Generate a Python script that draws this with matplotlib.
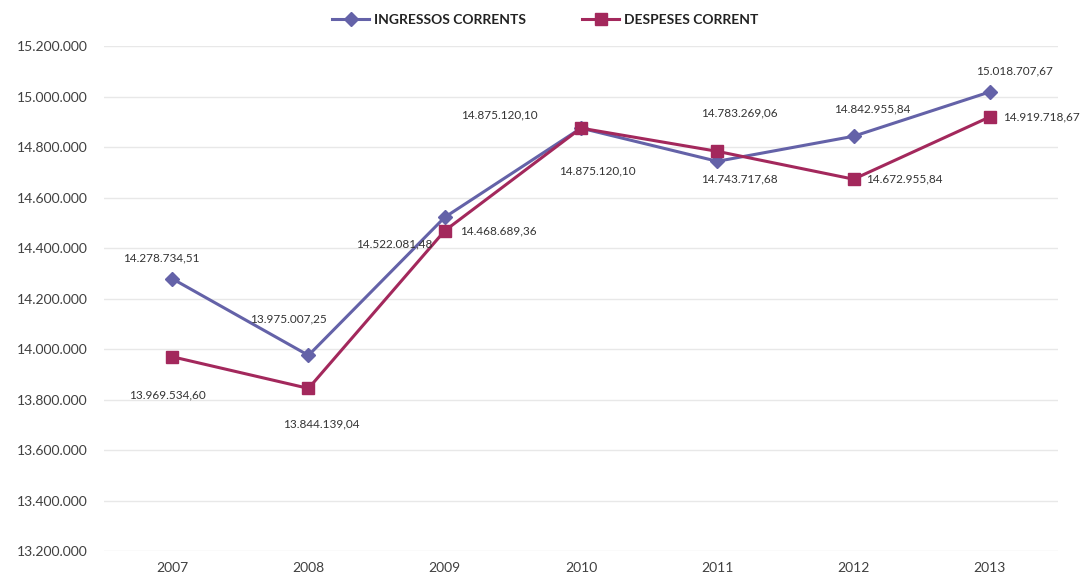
import matplotlib.pyplot as plt
import numpy as np

# dades
anys = ['2007', '2008', '2009', '2010', '2011', '2012', '2013']
ingressos = [14278734.51, 13975007.25, 14522081.48, 14875120.10, 14743717.68, 14842955.84, 15018707.67]
despeses = [13969534.60, 13844139.04, 14468689.36, 14875120.10, 14783269.06, 14672955.84, 14919718.67]

#etiquetes (desplaçament en pixels, alineació)
off_ing = [(-11, 21, 'center'), (-20, 36, 'center'), (-50, -27, 'center'), (-82, 13, 'center'),
           (22, -18, 'center'), (19, 27, 'center'), (25, 21, 'center')]
off_des = [(-5, -38, 'center'), (13, -36, 'center'), (15, 0, 'left'), (16, -43, 'center'),
           (22, 38, 'center'), (12, 0, 'left'), (13, 0, 'left')]

def fmt(v):
    s = '{:,.2f}'.format(v)
    return s.replace(',', 'X').replace('.', ',').replace('X', '.')

plt.rcParams['font.family'] = ['Lato', 'DejaVu Sans']

c_ing = '#6462a8'
c_des = '#a3285c'

fig = plt.figure(figsize=(10.84, 5.84), dpi=100)
ax = fig.add_axes([0.096, 0.0565, 0.88, 0.8645])

x = np.arange(len(anys))
ax.plot(x, ingressos, color=c_ing, lw=2.2, marker='D', ms=7, label='INGRESSOS CORRENTS')
ax.plot(x, despeses, color=c_des, lw=2.2, marker='s', ms=9, label='DESPESES CORRENT')

for i in range(len(anys)):
    dx, dy, ha = off_ing[i]
    ax.annotate(fmt(ingressos[i]), (x[i], ingressos[i]), xytext=(dx, dy), textcoords='offset pixels',
                ha=ha, va='center', fontsize=8.5, color='#333333')
    dx, dy, ha = off_des[i]
    ax.annotate(fmt(despeses[i]), (x[i], despeses[i]), xytext=(dx, dy), textcoords='offset pixels',
                ha=ha, va='center', fontsize=8.5, color='#333333')

ax.set_xlim(-0.5, 6.5)
ax.set_ylim(13200000, 15200000)
ax.set_yticks(np.arange(13200000, 15200001, 200000))
ax.set_yticklabels(['{:,}'.format(int(v)).replace(',', '.') for v in ax.get_yticks()])
ax.set_xticks(x)
ax.set_xticklabels(anys)
ax.tick_params(length=0, labelsize=10, colors='#404040')
ax.tick_params(axis='y', pad=12)
ax.tick_params(axis='x', pad=8)
ax.grid(axis='y', color='#e8e8e8', lw=1)
ax.set_axisbelow(True)
for s in ax.spines.values():
    s.set_visible(False)

leg = fig.legend(loc='center', bbox_to_anchor=(0.503, 0.966), ncol=2, frameon=False,
                 fontsize=10, columnspacing=4, handlelength=2.7, handletextpad=0.35)
for t in leg.get_texts():
    t.set_fontweight('bold')
    t.set_color('#222222')

plt.savefig('out.png')
